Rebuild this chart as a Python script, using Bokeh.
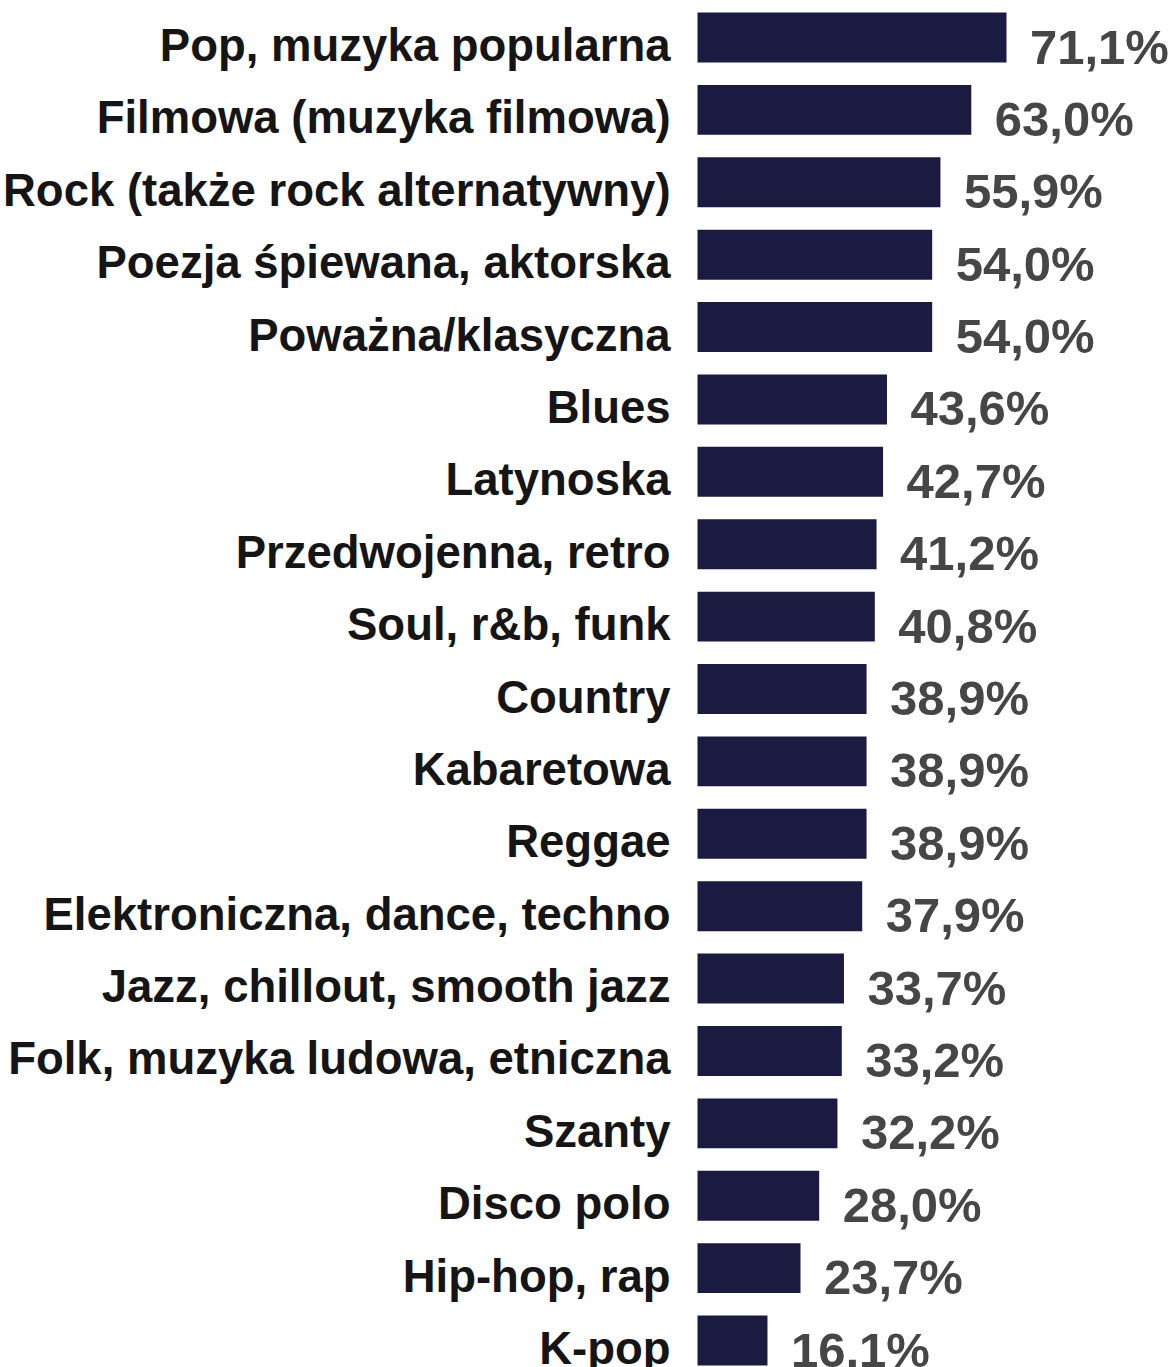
from bokeh.plotting import figure
from bokeh.models import Range1d, ColumnDataSource
from bokeh.core.properties import value
from bokeh.embed import file_html
from bokeh.resources import INLINE

categories = [
    "Pop, muzyka popularna",
    "Filmowa (muzyka filmowa)",
    "Rock (także rock alternatywny)",
    "Poezja śpiewana, aktorska",
    "Poważna/klasyczna",
    "Blues",
    "Latynoska",
    "Przedwojenna, retro",
    "Soul, r&b, funk",
    "Country",
    "Kabaretowa",
    "Reggae",
    "Elektroniczna, dance, techno",
    "Jazz, chillout, smooth jazz",
    "Folk, muzyka ludowa, etniczna",
    "Szanty",
    "Disco polo",
    "Hip-hop, rap",
    "K-pop",
]
values = [71.1, 63.0, 55.9, 54.0, 54.0, 43.6, 42.7, 41.2, 40.8, 38.9,
          38.9, 38.9, 37.9, 33.7, 33.2, 32.2, 28.0, 23.7, 16.1]
value_labels = [f"{v:.1f}".replace(".", ",") + "%" for v in values]

W, H = 1174, 1367
px_per_unit_x = 4.346
bar_left_px = 697
row_px = 72.39
first_row_px = 37

x_start = -bar_left_px / px_per_unit_x
x_end = (W - bar_left_px) / px_per_unit_x
y_top = -first_row_px / row_px
y_bottom = (H - first_row_px) / row_px

idx = list(range(len(categories)))
src = ColumnDataSource(dict(
    y=idx, v=values, cat=categories, lab=value_labels,
    lx=[-6.2] * len(idx), vx=[v + 5.4 for v in values],
))

p = figure(width=W, height=H, output_backend="svg", toolbar_location=None,
           x_range=Range1d(x_start, x_end), y_range=Range1d(y_bottom, y_top),
           min_border=0, outline_line_color=None)
p.axis.visible = False
p.grid.visible = False
p.background_fill_color = "white"
p.border_fill_color = "white"

p.hbar(y="y", left=0, right="v", height=0.69, source=src,
       fill_color="#1b1a40", line_color=None)

p.text(x="lx", y="y", text="cat", source=src, text_align="right",
       text_baseline="alphabetic", y_offset=8,
       text_font=value("Liberation Sans"), text_font_style="bold",
       text_font_size="45.5px", text_color="#151515")

p.text(x="vx", y="y", text="lab", source=src, text_align="left",
       text_baseline="alphabetic", y_offset=9,
       text_font=value("Liberation Sans"), text_font_style="bold",
       text_font_size="49px", text_color="#464646")

open("out.html", "w").write(file_html(p, INLINE))
